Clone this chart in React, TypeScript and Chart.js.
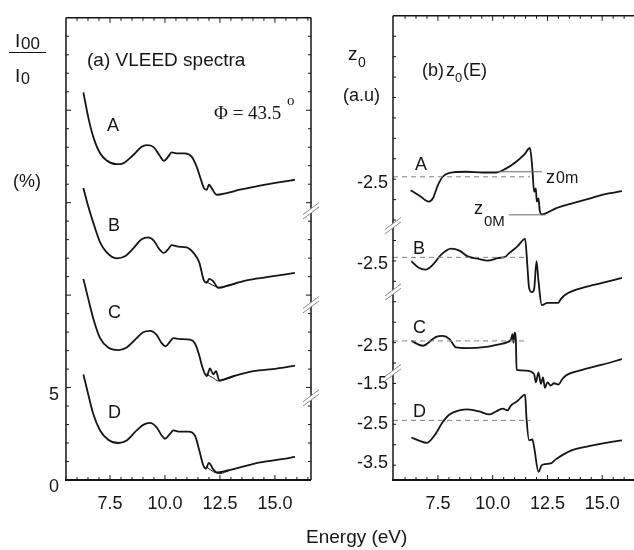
import React, { useEffect, useRef } from 'react';
import { Chart, registerables } from 'chart.js';

Chart.register(...registerables);

// ---------- Panel (a): VLEED spectra (offset curves, display units) ----------
const specA_E = [6.29, 6.51, 6.74, 7.05, 7.35, 7.8, 8.1, 8.56, 8.94, 9.17, 9.47, 9.74, 9.95, 10.15, 10.3, 10.53, 10.9, 11.21, 11.44, 11.59, 11.77, 11.9, 12.0, 12.12, 12.35, 12.8, 13.41, 14.32, 15.23, 15.91];
const specA_I = [20.97, 19.63, 18.56, 17.67, 17.28, 17.08, 17.13, 17.58, 18.02, 18.11, 18.02, 17.58, 17.26, 17.49, 17.72, 17.67, 17.67, 17.49, 16.95, 16.42, 15.79, 15.7, 15.97, 15.79, 15.43, 15.52, 15.7, 15.92, 16.11, 16.24];

const specB_E = [6.29, 6.51, 6.74, 7.05, 7.35, 7.8, 8.18, 8.56, 8.94, 9.24, 9.5, 9.74, 9.95, 10.15, 10.3, 10.6, 10.98, 11.28, 11.55, 11.77, 11.9, 12.01, 12.2, 12.42, 12.95, 13.71, 14.62, 15.91];
const specB_I = [15.79, 14.81, 13.92, 12.85, 12.31, 11.99, 12.1, 12.53, 13.02, 13.12, 12.94, 12.49, 12.28, 12.49, 12.7, 12.62, 12.58, 12.31, 11.8, 10.8, 10.67, 10.88, 10.74, 10.39, 10.56, 10.8, 10.97, 11.2];
const specB2_E = [11.85, 12.15, 12.5, 12.9, 13.3];
const specB2_I = [10.75, 10.55, 10.42, 10.5, 10.65];

const specC_E = [6.29, 6.51, 6.74, 7.05, 7.42, 7.88, 8.26, 8.71, 9.01, 9.32, 9.62, 9.85, 10.03, 10.23, 10.38, 10.68, 11.14, 11.36, 11.55, 11.71, 11.9, 12.05, 12.2, 12.32, 12.47, 13.1, 14.01, 15.08, 15.91];
const specC_I = [10.88, 9.81, 8.74, 7.67, 7.17, 7.03, 7.17, 7.67, 7.99, 8.07, 7.85, 7.4, 7.23, 7.49, 7.67, 7.62, 7.59, 7.4, 6.78, 6.07, 5.62, 6.03, 5.71, 5.89, 5.39, 5.62, 5.89, 6.03, 6.19];
const specC2_E = [11.85, 12.15, 12.45, 12.8, 13.2];
const specC2_I = [5.75, 5.55, 5.35, 5.45, 5.62];

const specD_E = [6.29, 6.51, 6.74, 7.05, 7.42, 7.88, 8.26, 8.71, 9.01, 9.32, 9.62, 9.85, 10.0, 10.23, 10.38, 10.68, 11.06, 11.36, 11.56, 11.74, 11.86, 12.0, 12.17, 12.35, 12.8, 13.41, 14.32, 15.23, 15.91];
const specD_I = [5.71, 4.64, 3.57, 2.68, 2.18, 2.0, 2.14, 2.68, 2.98, 3.09, 2.85, 2.41, 2.23, 2.5, 2.68, 2.62, 2.62, 2.41, 1.61, 0.8, 0.62, 0.93, 0.62, 0.41, 0.5, 0.68, 0.95, 1.11, 1.25];
const specD2_E = [11.9, 12.2, 12.5, 12.9];
const specD2_I = [0.7, 0.45, 0.35, 0.5];

// ---------- Panel (b): z0(E) (offset curves, display units) ----------
const z0A_E = [6.25, 6.66, 7.09, 7.27, 7.5, 7.72, 8.03, 8.79, 9.54, 10.15, 10.6, 11.06, 11.44, 11.7, 11.81, 11.89, 11.97, 12.01, 12.09, 12.15, 12.24, 12.42, 12.88, 13.63, 14.54, 15.3, 15.9];
const z0A_V = [15.61, 15.31, 14.99, 15.17, 15.88, 16.33, 16.54, 16.6, 16.56, 16.56, 16.77, 17.13, 17.52, 17.88, 16.77, 15.52, 15.7, 14.99, 15.17, 14.49, 14.31, 14.36, 14.63, 14.9, 15.2, 15.43, 15.56];

const z0B_E = [6.29, 6.59, 6.94, 7.27, 7.65, 8.1, 8.48, 8.86, 9.39, 9.77, 10.22, 10.6, 10.75, 11.13, 11.48, 11.59, 11.66, 11.79, 11.89, 12.0, 12.09, 12.24, 12.5, 13.0, 13.1, 13.33, 14.09, 15.0, 15.9];
const z0B_V = [11.78, 11.46, 11.33, 11.6, 12.14, 12.46, 12.35, 12.04, 11.9, 11.81, 11.95, 12.04, 12.22, 12.58, 12.99, 11.42, 10.35, 10.12, 10.26, 11.78, 10.71, 9.42, 9.54, 9.54, 9.73, 9.99, 10.35, 10.62, 10.88];

const z0C_E = [6.29, 6.81, 7.27, 7.42, 7.72, 8.03, 8.33, 8.79, 9.7, 10.45, 10.83, 10.9, 10.95, 11.0, 11.06, 11.09, 11.51, 11.89, 11.97, 12.09, 12.2, 12.3, 12.38, 12.5, 12.65, 12.8, 13.0, 13.18, 13.33, 14.09, 15.0, 15.9];
const z0C_V = [7.49, 7.23, 7.59, 7.71, 7.76, 7.59, 7.14, 7.1, 7.17, 7.35, 7.55, 7.85, 7.4, 7.94, 7.49, 5.93, 5.89, 5.71, 5.26, 5.8, 5.18, 5.53, 4.96, 5.26, 5.09, 5.21, 5.14, 5.44, 5.62, 5.93, 6.21, 6.51];

const z0D_E = [6.29, 6.66, 7.0, 7.35, 7.72, 8.03, 8.48, 8.86, 9.39, 9.85, 10.15, 10.45, 10.68, 10.83, 11.13, 11.48, 11.54, 11.66, 11.81, 11.89, 12.09, 12.24, 12.42, 12.65, 12.88, 13.18, 13.63, 14.39, 15.15, 15.9];
const z0D_V = [2.29, 2.11, 2.0, 2.41, 3.12, 3.53, 3.75, 3.8, 3.69, 3.53, 3.69, 3.84, 3.75, 4.01, 4.25, 4.6, 3.39, 2.14, 2.18, 1.78, 0.44, 0.8, 0.86, 0.89, 1.11, 1.34, 1.61, 1.82, 2.0, 2.14];

// reference (dashed) levels and z0m / z0M markers
const refA_E = [5.45, 11.7];
const refA_V = [16.33, 16.33];
const refB_E = [5.45, 11.45];
const refB_V = [11.99, 11.99];
const refC_E = [5.45, 11.45];
const refC_V = [7.49, 7.49];
const refD_E = [5.45, 11.74];
const refD_V = [3.21, 3.21];
const z0m_E = [10.16, 12.25];
const z0m_V = [16.6, 16.6];
const z0M_E = [10.75, 12.42];
const z0M_V = [14.28, 14.28];

// ---------- tick labels ----------
const xTickValues = [7.5, 10.0, 12.5, 15.0];
const leftYTickValues = [0, 5];
const leftYTickLabels = ['0', '5'];
const rightYTickValues = [0.91, 3.0, 5.19, 7.23, 11.62, 15.97];
const rightYTickLabels = ['-3.5', '-2.5', '-1.5', '-2.5', '-2.5', '-2.5'];
const leftBreaks = [14.56, 9.48, 4.44];
const rightBreaks = [13.7, 10.12, 5.78];

const INK = '#151515';
const FONT = '"Liberation Sans", Arial, Helvetica, sans-serif';

const pts = (xs: number[], ys: number[]) => xs.map((x, i) => ({ x, y: ys[i] }));
const curve = (xs: number[], ys: number[], w = 1.8) => ({
  data: pts(xs, ys),
  borderColor: INK,
  borderWidth: w,
  pointRadius: 0,
  cubicInterpolationMode: 'monotone' as const,
  fill: false,
});
const dashed = (xs: number[], ys: number[]) => ({
  data: pts(xs, ys),
  borderColor: '#808080',
  borderWidth: 1,
  borderDash: [5, 4],
  pointRadius: 0,
  fill: false,
});
const thin = (xs: number[], ys: number[]) => ({
  data: pts(xs, ys),
  borderColor: '#666',
  borderWidth: 1,
  pointRadius: 0,
  fill: false,
});

const framePlugin = {
  id: 'frame',
  afterDatasetsDraw(chart: any, _args: any, o: any) {
    const { ctx, chartArea: ca, scales } = chart;
    const xs = scales.x;
    const ys = scales.y;
    const line = (x1: number, y1: number, x2: number, y2: number) => {
      ctx.beginPath();
      ctx.moveTo(x1, y1);
      ctx.lineTo(x2, y2);
      ctx.stroke();
    };
    ctx.save();
    ctx.strokeStyle = INK;
    ctx.lineWidth = 1.5;
    line(ca.left, ca.top, ca.right, ca.top);
    line(ca.left, ca.top, ca.left, ca.bottom);
    if (o.rightBorder) line(ca.right, ca.top, ca.right, ca.bottom);
    ctx.lineWidth = 2.2;
    line(ca.left - 1, ca.bottom, ca.right, ca.bottom);
    // ticks (inward)
    ctx.lineWidth = 1;
    for (let v = 6.0; v <= xs.max + 1e-9; v += 0.5) {
      const px = xs.getPixelForValue(v);
      const major = xTickValues.some((t) => Math.abs(t - v) < 1e-6);
      const len = major ? 5 : 3;
      line(px, ca.bottom, px, ca.bottom - len);
      line(px, ca.top, px, ca.top + len);
    }
    for (let v = o.yStart; v < ys.max - 0.2; v += o.yStep) {
      const py = ys.getPixelForValue(v);
      const major = o.yMajor && Math.abs(v / 5 - Math.round(v / 5)) < 1e-6;
      const len = major ? 5 : 3;
      line(ca.left, py, ca.left + len, py);
      if (o.rightBorder) line(ca.right, py, ca.right - len, py);
    }
    // axis breaks
    const bx = o.rightBorder ? ca.right : ca.left;
    for (const b of o.breaks) {
      const py = ys.getPixelForValue(b);
      const dx = 8;
      const dy = 6;
      const g = 2.2;
      ctx.fillStyle = '#fff';
      ctx.beginPath();
      ctx.moveTo(bx - dx, py + dy - g);
      ctx.lineTo(bx + dx, py - dy - g);
      ctx.lineTo(bx + dx, py - dy + g);
      ctx.lineTo(bx - dx, py + dy + g);
      ctx.closePath();
      ctx.fill();
      ctx.strokeStyle = '#8a8a8a';
      ctx.lineWidth = 1;
      line(bx - dx, py + dy - g, bx + dx, py - dy - g);
      line(bx - dx, py + dy + g, bx + dx, py - dy + g);
      ctx.strokeStyle = INK;
    }
    ctx.restore();
  },
};

const tickFont = { family: FONT, size: 18 };

function makeConfig(side: 'left' | 'right'): any {
  const isLeft = side === 'left';
  const datasets = isLeft
    ? [
        curve(specA_E, specA_I),
        curve(specB_E, specB_I),
        curve(specB2_E, specB2_I, 1),
        curve(specC_E, specC_I),
        curve(specC2_E, specC2_I, 1),
        curve(specD_E, specD_I),
        curve(specD2_E, specD2_I, 1),
      ]
    : [
        dashed(refA_E, refA_V),
        dashed(refB_E, refB_V),
        dashed(refC_E, refC_V),
        dashed(refD_E, refD_V),
        thin(z0m_E, z0m_V),
        thin(z0M_E, z0M_V),
        curve(z0A_E, z0A_V),
        curve(z0B_E, z0B_V),
        curve(z0C_E, z0C_V),
        curve(z0D_E, z0D_V),
      ];
  const yVals = isLeft ? leftYTickValues : rightYTickValues;
  const yLabs = isLeft ? leftYTickLabels : rightYTickLabels;
  return {
    type: 'line',
    data: { datasets },
    plugins: [framePlugin],
    options: {
      animation: false,
      responsive: true,
      maintainAspectRatio: false,
      events: [],
      layout: { padding: { top: 13, right: isLeft ? 11 : 0, left: 0, bottom: 0 } },
      plugins: {
        legend: { display: false },
        tooltip: { enabled: false },
        frame: {
          rightBorder: isLeft,
          yStart: isLeft ? 1 : 0.8,
          yStep: isLeft ? 1 : 1.1,
          yMajor: isLeft,
          breaks: isLeft ? leftBreaks : rightBreaks,
        },
      },
      scales: {
        x: {
          type: 'linear',
          min: isLeft ? 5.5 : 5.45,
          max: isLeft ? 16.64 : 16.45,
          grid: { display: false, drawTicks: false },
          border: { display: false },
          afterBuildTicks: (s: any) => {
            s.ticks = xTickValues.map((v) => ({ value: v }));
          },
          afterFit: (s: any) => {
            s.height = 70;
          },
          ticks: {
            padding: 13,
            color: INK,
            font: tickFont,
            maxRotation: 0,
            autoSkip: false,
            callback: (v: any) => Number(v).toFixed(1),
          },
        },
        y: {
          type: 'linear',
          min: 0,
          max: 25,
          grid: { display: false, drawTicks: false },
          border: { display: false },
          afterBuildTicks: (s: any) => {
            s.ticks = yVals.map((v) => ({ value: v }));
          },
          afterFit: (s: any) => {
            s.width = isLeft ? 66 : 71;
          },
          ticks: {
            padding: isLeft ? 7 : 5,
            labelOffset: isLeft ? 7 : 0,
            color: INK,
            font: tickFont,
            autoSkip: false,
            callback: (_v: any, i: number) => yLabs[i],
          },
        },
      },
    },
  };
}

const txt = (left: number, top: number, size: number, extra: React.CSSProperties = {}): React.CSSProperties => ({
  position: 'absolute',
  left,
  top,
  fontSize: size,
  lineHeight: 1,
  whiteSpace: 'nowrap',
  ...extra,
});

export default function App() {
  const leftRef = useRef<HTMLCanvasElement>(null);
  const rightRef = useRef<HTMLCanvasElement>(null);

  useEffect(() => {
    const c1 = new Chart(leftRef.current as HTMLCanvasElement, makeConfig('left'));
    const c2 = new Chart(rightRef.current as HTMLCanvasElement, makeConfig('right'));
    return () => {
      c1.destroy();
      c2.destroy();
    };
  }, []);

  const serif = '"Liberation Serif", "Times New Roman", serif';

  return (
    <div
      style={{
        position: 'fixed',
        left: 0,
        top: 0,
        width: 634,
        height: 550,
        overflow: 'hidden',
        background: '#fff',
        color: INK,
        fontFamily: FONT,
      }}
    >
      <div style={{ position: 'absolute', left: 0, top: 0, width: 322, height: 550 }}>
        <canvas ref={leftRef} />
      </div>
      <div style={{ position: 'absolute', left: 322, top: 0, width: 312, height: 550 }}>
        <canvas ref={rightRef} />
      </div>

      {/* panel (a) axis title */}
      <span style={txt(15, 31, 19)}>I</span>
      <span style={txt(21, 35, 17)}>00</span>
      <div style={{ position: 'absolute', left: 9, top: 51.5, width: 37, height: 1.6, background: INK }} />
      <span style={txt(15, 66, 19)}>I</span>
      <span style={txt(21, 71, 16)}>0</span>
      <span style={txt(13, 172, 18)}>(%)</span>

      {/* panel (a) annotations */}
      <span style={txt(87, 50, 19)}>(a) VLEED spectra</span>
      <span style={txt(214, 103, 19, { fontFamily: serif })}>Φ = 43.5</span>
      <span style={txt(287, 93, 15, { fontFamily: serif })}>o</span>
      <span style={txt(107, 116, 18)}>A</span>
      <span style={txt(108, 216, 18)}>B</span>
      <span style={txt(108, 303, 18)}>C</span>
      <span style={txt(108, 403, 18)}>D</span>

      {/* panel (b) axis title */}
      <span style={txt(348, 44, 19)}>z</span>
      <span style={txt(358, 55, 14)}>0</span>
      <span style={txt(343, 86, 18)}>(a.u)</span>

      {/* panel (b) annotations */}
      <span style={txt(422, 61, 18)}>(b)</span>
      <span style={txt(446, 61, 18)}>z</span>
      <span style={txt(455, 71, 13)}>0</span>
      <span style={txt(463, 61, 18)}>(E)</span>
      <span style={txt(415, 155, 18)}>A</span>
      <span style={txt(413, 239, 18)}>B</span>
      <span style={txt(413, 318, 18)}>C</span>
      <span style={txt(413, 402, 18)}>D</span>
      <span style={txt(546, 168, 18)}>z</span>
      <span style={txt(556, 170, 16)}>0m</span>
      <span style={txt(474, 199, 18)}>z</span>
      <span style={txt(484, 213, 15)}>0M</span>

      <span style={txt(306, 527, 19)}>Energy (eV)</span>
    </div>
  );
}
